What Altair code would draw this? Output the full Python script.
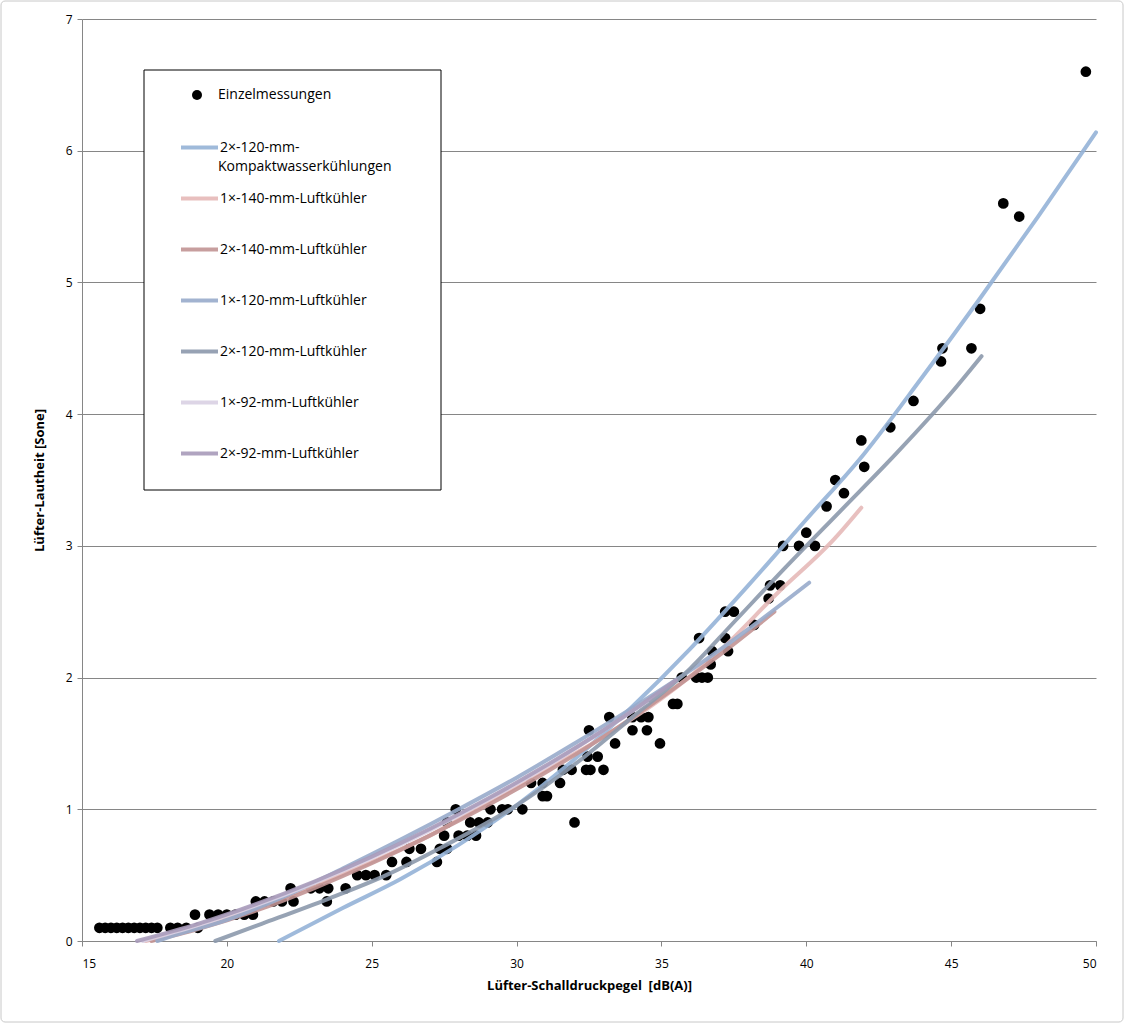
import altair as alt
import pandas as pd

# ---------------- data ----------------
pt_x = [15.6, 15.8, 16.0, 16.2, 16.4, 16.6, 16.8, 17.0, 17.2, 17.4, 17.6, 18.05, 18.3, 18.6, 19.0,
        18.9, 19.4, 19.7, 20.0, 20.3, 20.6, 20.9,
        21.0, 21.3, 21.6, 21.9, 22.3, 23.45,
        22.2, 22.9, 23.2, 23.5, 24.1,
        24.5, 24.8, 25.1, 25.5,
        25.7, 26.2, 27.25,
        26.3, 26.7, 27.35, 27.6,
        27.5, 28.0, 28.3, 28.6,
        27.6, 28.4, 28.7, 29.0,
        27.9, 29.1, 29.5, 29.7, 30.2,
        30.9, 31.05,
        30.5, 30.9, 31.5,
        31.6, 31.9, 32.4, 32.55, 33.0,
        32.45, 32.8,
        33.4, 34.95,
        32.5, 34.0, 34.5,
        33.2, 34.0, 34.3, 34.55,
        35.4, 35.55,
        35.7, 36.2, 36.4, 36.6,
        36.7,
        36.75, 37.3,
        36.3, 37.2,
        38.2,
        37.2, 37.5,
        38.7,
        38.75, 39.1,
        39.2, 39.75, 40.3,
        40.0,
        40.7, 41.3, 41.0, 42.0, 41.9, 42.9, 43.7,
        44.65, 44.7, 45.7, 46.0, 47.35, 46.8, 49.65,
        32.0]
pt_y = [0.1] * 15 + \
       [0.2] * 7 + \
       [0.3] * 6 + \
       [0.4] * 5 + \
       [0.5] * 4 + \
       [0.6] * 3 + \
       [0.7] * 4 + \
       [0.8] * 4 + \
       [0.9] * 4 + \
       [1.0] * 5 + \
       [1.1] * 2 + \
       [1.2] * 3 + \
       [1.3] * 5 + \
       [1.4] * 2 + \
       [1.5] * 2 + \
       [1.6] * 3 + \
       [1.7] * 4 + \
       [1.8] * 2 + \
       [2.0] * 4 + \
       [2.1] + \
       [2.2] * 2 + \
       [2.3] * 2 + \
       [2.4] + \
       [2.5] * 2 + \
       [2.6] + \
       [2.7] * 2 + \
       [3.0] * 3 + \
       [3.1] + \
       [3.3, 3.4, 3.5, 3.6, 3.8, 3.9, 4.1] + \
       [4.4, 4.5, 4.5, 4.8, 5.5, 5.6, 6.6] + \
       [0.9]

series_names = ["2×-120-mm-Kompaktwasserkühlungen", "1×-140-mm-Luftkühler", "2×-140-mm-Luftkühler",
                "1×-120-mm-Luftkühler", "2×-120-mm-Luftkühler", "1×-92-mm-Luftkühler", "2×-92-mm-Luftkühler"]
series_colors = ["#95B3D7", "#E6B9B8", "#C29494", "#98ABCB", "#8C99AC", "#DAD1E4", "#A89BBA"]

kompakt_x = [21.8, 24, 26, 28, 30, 32, 34, 36, 38, 40, 42, 44, 46, 48, 50]
kompakt_y = [0.0, 0.25, 0.47, 0.73, 1.03, 1.38, 1.78, 2.22, 2.7, 3.2, 3.7, 4.28, 4.88, 5.5, 6.14]

l140_1_x = [17.2, 19, 21, 23, 25, 27, 29, 31, 33, 35, 37, 39, 41, 41.9]
l140_1_y = [0.0, 0.1, 0.25, 0.42, 0.6, 0.8, 1.05, 1.3, 1.55, 1.84, 2.2, 2.64, 3.06, 3.29]

l140_2_x = [17.4, 19, 21, 23, 25, 27, 29, 31, 33, 35, 37, 38.9]
l140_2_y = [0.0, 0.09, 0.23, 0.4, 0.59, 0.8, 1.03, 1.28, 1.55, 1.85, 2.17, 2.5]

l120_1_x = [17.6, 18, 20, 22, 24, 26, 28, 30, 32, 34, 36.3, 38.2, 40.1]
l120_1_y = [0.0, 0.03, 0.16, 0.34, 0.55, 0.77, 1.0, 1.24, 1.5, 1.77, 2.1, 2.4, 2.72]

l120_2_x = [19.6, 21.2, 23.5, 25.5, 27.4, 30, 32, 34, 36, 37.5, 39.3, 41.2, 43.1, 45, 46.05]
l120_2_y = [0.0, 0.13, 0.32, 0.5, 0.71, 1.03, 1.34, 1.7, 2.07, 2.42, 2.84, 3.27, 3.7, 4.16, 4.44]

l92_1_x = [17.1, 19, 21, 23, 25, 27, 29, 31, 33, 34.5]
l92_1_y = [0.0, 0.12, 0.27, 0.44, 0.63, 0.84, 1.07, 1.32, 1.6, 1.82]

l92_2_x = [16.9, 19, 21, 23, 25, 27, 29, 31, 33, 35, 35.5]
l92_2_y = [0.0, 0.13, 0.28, 0.45, 0.64, 0.85, 1.08, 1.33, 1.6, 1.9, 1.98]

# ---------------- tables ----------------
points = pd.DataFrame({"x": pt_x, "y": pt_y, "leg": "Einzelmessungen"})

curve_x = [kompakt_x, l140_1_x, l140_2_x, l120_1_x, l120_2_x, l92_1_x, l92_2_x]
curve_y = [kompakt_y, l140_1_y, l140_2_y, l120_1_y, l120_2_y, l92_1_y, l92_2_y]
rows = []
for i, (name, xs, ys) in enumerate(zip(series_names, curve_x, curve_y)):
    for j, (a, b) in enumerate(zip(xs, ys)):
        rows.append({"series": name, "x": a, "y": b, "order": i, "idx": j})
curves = pd.DataFrame(rows)

FONT = "Open Sans"
GRID = "#868686"
LEG_FS = 14

x_enc = alt.X("x:Q", scale=alt.Scale(domain=[15, 50], nice=False, zero=False),
              axis=alt.Axis(values=[15, 20, 25, 30, 35, 40, 45, 50], grid=False,
                            title="Lüfter-Schalldruckpegel\u00a0 [dB(A)]",
                            labelPadding=12, titlePadding=10))
y_enc = alt.Y("y:Q", scale=alt.Scale(domain=[0, 7], nice=False),
              axis=alt.Axis(values=[0, 1, 2, 3, 4, 5, 6, 7], grid=True,
                            title="Lüfter-Lautheit [Sone]",
                            labelPadding=5, titlePadding=19))

frame = alt.Chart(pd.DataFrame({"a": [0]})).mark_rect(
    fillOpacity=0, stroke="#C8C8C8", strokeWidth=1, cornerRadius=4
).encode(x=alt.value(-81), x2=alt.value(1041), y=alt.value(-18), y2=alt.value(1003))

legend_box = alt.Chart(pd.DataFrame({"a": [0]})).mark_rect(
    fill="white", stroke="black", strokeWidth=1
).encode(x=alt.value(62), x2=alt.value(359), y=alt.value(51), y2=alt.value(471))

# second line of the wrapped legend label of the first trend line
legend_wrap = alt.Chart(pd.DataFrame({"t": ["Kompaktwasserkühlungen"]})).mark_text(
    align="left", baseline="middle", font=FONT, fontSize=LEG_FS, color="black"
).encode(text="t:N", x=alt.value(136), y=alt.value(148))

pts = alt.Chart(points).mark_point(filled=True, size=115, color="black", opacity=1).encode(
    x=x_enc, y=y_enc,
    shape=alt.Shape("leg:N", scale=alt.Scale(domain=["Einzelmessungen"], range=["circle"]),
                    legend=alt.Legend(orient="none", legendX=108, legendY=69, title=None,
                                      padding=0, symbolSize=100, symbolFillColor="black",
                                      symbolStrokeColor="black", labelOffset=14,
                                      labelFont=FONT, labelFontSize=LEG_FS, labelColor="black"))
)

label_expr = ("datum.label == '2×-120-mm-Kompaktwasserkühlungen' ? "
              "'2×-120-mm-' : datum.label")

lines = alt.Chart(curves).mark_line(strokeWidth=4, interpolate="monotone", opacity=0.9,
                                    strokeCap="round").encode(
    x=x_enc, y=y_enc,
    color=alt.Color("series:N", scale=alt.Scale(domain=series_names, range=series_colors),
                    legend=alt.Legend(orient="none", legendX=97, legendY=110, title=None,
                                      padding=0, symbolType="stroke", symbolSize=1369,
                                      symbolStrokeWidth=4, labelOffset=0, rowPadding=14,
                                      clipHeight=37,
                                      labelFont=FONT, labelFontSize=LEG_FS, labelColor="black",
                                      labelLimit=300, labelExpr=label_expr)),
    detail="series:N",
    order="idx:Q",
)

chart = alt.layer(frame, legend_box, legend_wrap, pts, lines).resolve_legend(
    shape="independent", color="independent"
).properties(
    width=1014, height=922,
    autosize=alt.AutoSizeParams(type="none"),
    padding={"left": 82, "top": 19, "right": 29, "bottom": 83},
    background="white",
).configure_view(stroke=None).configure_axis(
    labelFont=FONT, labelFontSize=12, labelColor="black",
    titleFont=FONT, titleFontSize=13, titleFontWeight="bold", titleColor="black",
    domainColor=GRID, tickColor=GRID, gridColor=GRID, tickSize=5,
    domainWidth=1, gridWidth=1,
)

chart.save("out.html", embed_options={"renderer": "svg", "actions": False})
